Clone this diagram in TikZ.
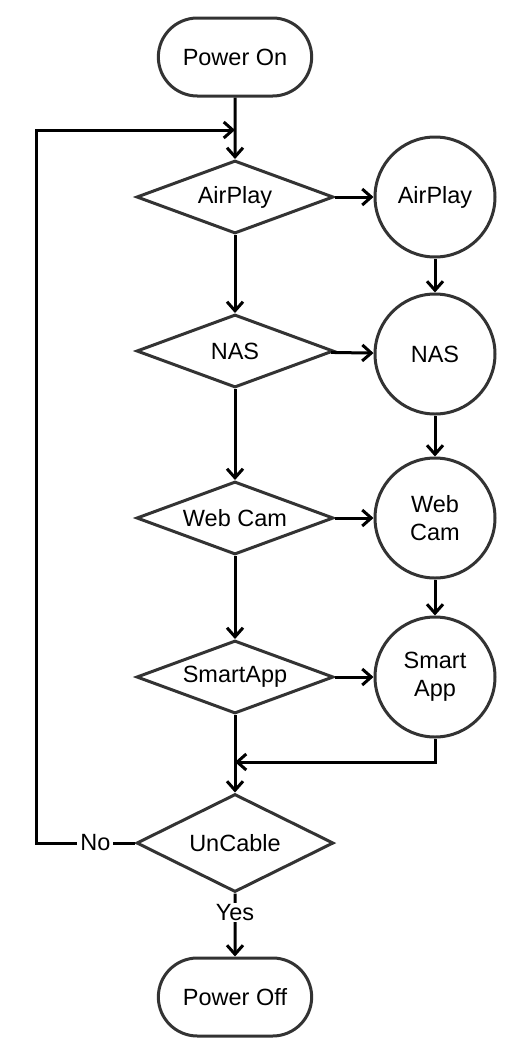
\documentclass[tikz,border=0pt]{standalone}
\usepackage{fontspec}
\setmainfont{Liberation Sans}
\usetikzlibrary{shapes.geometric,shapes.misc,arrows.meta}

\begin{document}
\begin{tikzpicture}[x=1pt, y=-1pt, line width=3pt,
  every node/.style={font=\fontsize{23.5}{28}\selectfont},
  term/.style={rounded rectangle, draw=black!80, minimum width=160pt, minimum height=78pt},
  test/.style={diamond, aspect=2.7, draw=black!80, minimum width=197pt, minimum height=73pt, inner sep=0pt},
  job/.style={circle, draw=black!80, minimum size=120pt, align=center, inner sep=0pt},
  >={Straight Barb[length=9pt,width=16pt]}]
\useasboundingbox (0,0) rectangle (514,1058);

\node [term] (start) at (235,57) {Power On};
\node [test] (d1) at (235,197) {AirPlay};
\node [test] (d2) at (235,351) {NAS};
\node [test] (d3) at (235,518) {Web Cam};
\node [test] (d4) at (235,677) {SmartApp};
\node [test, aspect=2, minimum height=98pt] (d5) at (235,843) {UnCable};
\node [term] (stop) at (235,997) {Power Off};

\node [job] (c1) at (435,197) {AirPlay};
\node [job] (c2) at (435,354) {NAS};
\node [job] (c3) at (435,518) {Web\\Cam};
\node [job] (c4) at (435,677) {Smart\\App};

\coordinate (join) at (235,130);
\coordinate (merge) at (235,762);
\coordinate (back) at (36,843);

\draw[->] (start) -- (d1);
\draw[->] (d1) -- (d2);
\draw[->] (d2) -- (d3);
\draw[->] (d3) -- (d4);
\draw[->] (d4) -- (d5);

\draw[->] (d1) -- (c1);
\draw[->] (d2) -- (c2);
\draw[->] (d3) -- (c3);
\draw[->] (d4) -- (c4);

\draw[->] (c1) -- (c2);
\draw[->] (c2) -- (c3);
\draw[->] (c3) -- (c4);
\draw[->] (c4) |- (merge);

\draw[->] (d5) -- node[fill=white, pos=0.3, inner sep=1pt] {Yes} (stop);
\draw[->] (d5) -- node[fill=white, pos=0.4, inner sep=3pt] {No} (back) |- (join);

\end{tikzpicture}
\end{document}
